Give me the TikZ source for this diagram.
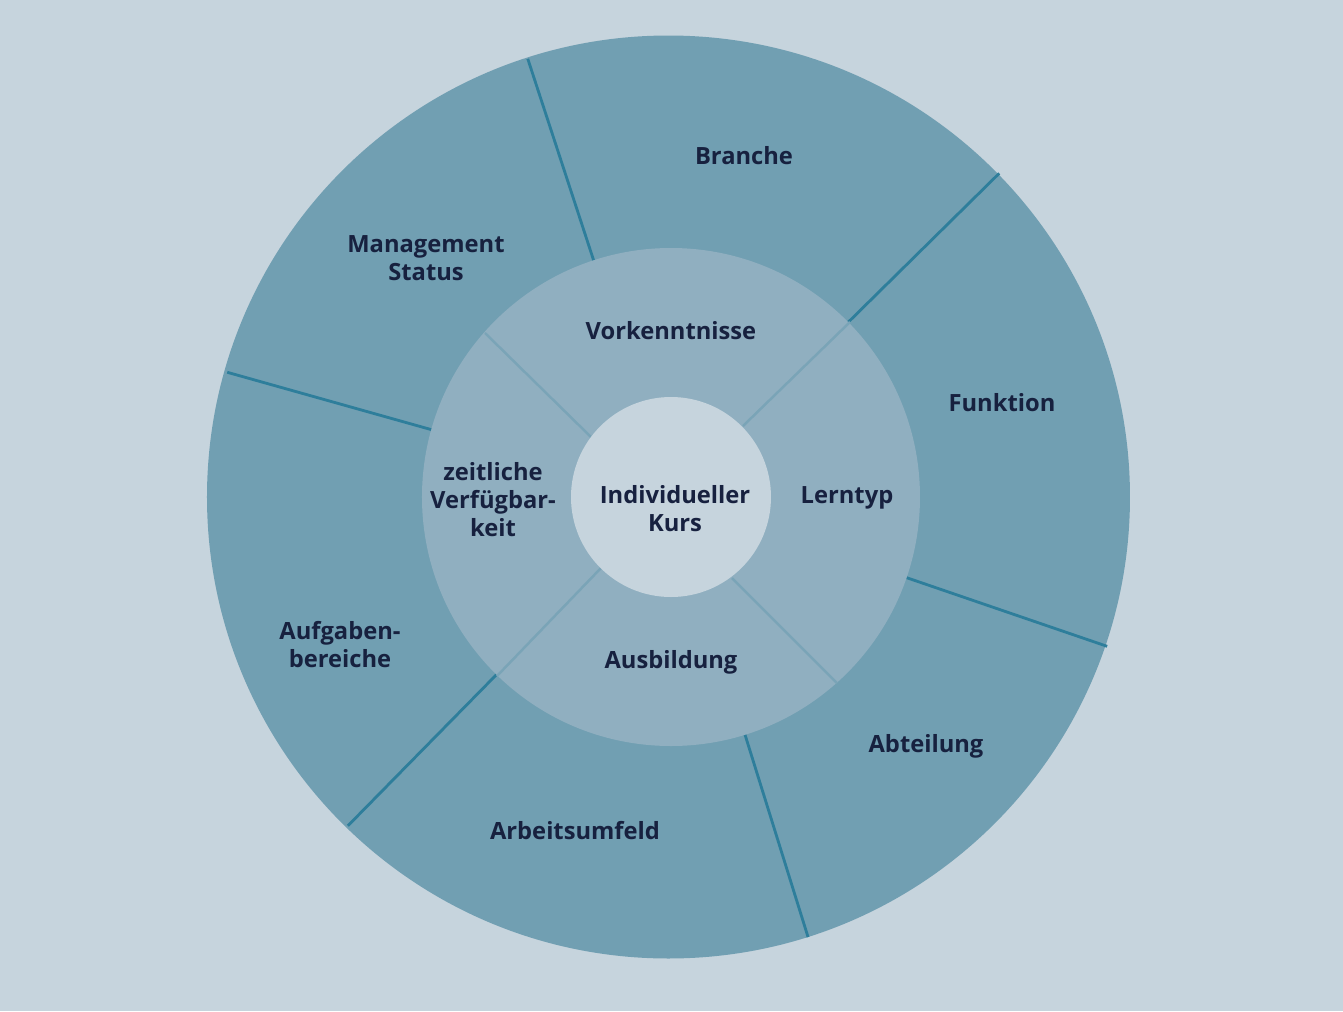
\documentclass[tikz,border=0pt]{standalone}
\usepackage{fontspec}
\setmainfont{Open Sans}
\usepackage{xcolor}
\definecolor{bgblue}{HTML}{C6D4DD}
\definecolor{ringouter}{HTML}{719FB2}
\definecolor{ringmid}{HTML}{90AFC0}
\definecolor{lineouter}{HTML}{2E7E9B}
\definecolor{lineinner}{HTML}{7AA4B7}
\definecolor{labeltext}{HTML}{17213F}

\begin{document}
\begin{tikzpicture}[
  font=\fontsize{13.5}{15.9}\selectfont\bfseries,
  lbl/.style={text=labeltext, align=center, inner sep=0pt},
  outerdiv/.style={draw=lineouter, line width=1.6pt},
  innerdiv/.style={draw=lineinner, line width=1.4pt}
]
\fill[bgblue] (-13.42,-10.28) rectangle (13.44,9.94);
\useasboundingbox (-13.42,-10.28) rectangle (13.44,9.94);
\fill[ringouter] (-0.05,0) circle (9.23);
\foreach \a in {108.1,44.6,-18.9,-72.7,225.5,164.3}
  \draw[outerdiv] (0,0) -- (\a:9.22);
\fill[ringmid] (0,0) circle (4.98);
\draw[innerdiv] (-1.60,1.20) -- (-3.72,3.28);
\draw[innerdiv] (1.44,1.42) -- (3.58,3.50);
\draw[innerdiv] (1.22,-1.62) -- (3.32,-3.72);
\draw[innerdiv] (-1.40,-1.42) -- (-3.48,-3.58);
\fill[bgblue] (0,0) circle (2.0);

\node[lbl] (kurs) at (0.08,-0.24) {Individueller\\Kurs};
\node[lbl] (vork) at (0,3.32) {Vorkenntnisse};
\node[lbl] (lern) at (3.52,-0.01) {Lerntyp};
\node[lbl] (ausb) at (0,-3.31) {Ausbildung};
\node[lbl] (zeit) at (-3.56,-0.06) {zeitliche\\Verfügbar-\\keit};
\node[lbl] (branche) at (1.46,6.82) {Branche};
\node[lbl] (mgmt) at (-4.90,4.78) {Management\\Status};
\node[lbl] (funk) at (6.62,1.88) {Funktion};
\node[lbl] (abt) at (5.10,-4.98) {Abteilung};
\node[lbl] (umfeld) at (-1.92,-6.68) {Arbeitsumfeld};
\node[lbl] (aufg) at (-6.62,-2.96) {Aufgaben-\\bereiche};
\end{tikzpicture}
\end{document}
